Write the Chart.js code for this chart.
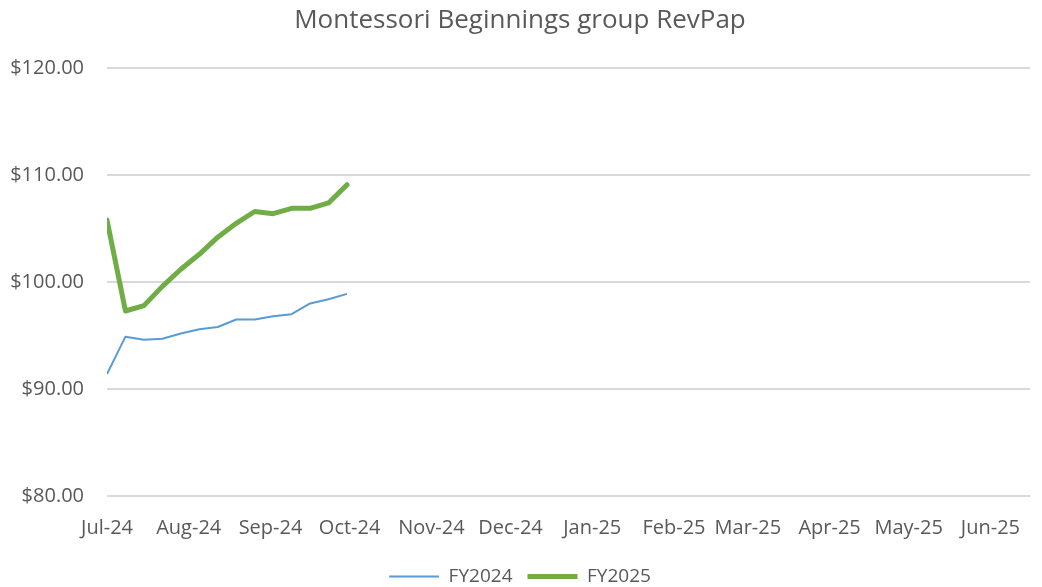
<!DOCTYPE html>
<html>
<head>
<meta charset="utf-8">
<script src="https://cdn.jsdelivr.net/npm/chart.js@4"></script>
<style>
  html, body { margin: 0; padding: 0; background: #fff; }
  #wrap { width: 1042px; height: 587px; }
</style>
</head>
<body>
<div id="wrap"><canvas id="revpap"></canvas></div>
<script>
// semanas (segunda-feira de cada semana)
const weeks = ['2024-07-01', '2024-07-08', '2024-07-15', '2024-07-22', '2024-07-29',
  '2024-08-05', '2024-08-12', '2024-08-19', '2024-08-26', '2024-09-02',
  '2024-09-09', '2024-09-16', '2024-09-23', '2024-09-30'];

const fy2024 = [91.4, 94.9, 94.6, 94.7, 95.2, 95.6, 95.8, 96.5, 96.5, 96.8, 97.0, 98.0, 98.4, 98.9];
const fy2025 = [105.8, 97.3, 97.8, 99.6, 101.2, 102.6, 104.2, 105.5, 106.6, 106.4, 106.9, 106.9, 107.4, 109.1];

const monthStarts = ['2024-07-01', '2024-08-01', '2024-09-01', '2024-10-01', '2024-11-01', '2024-12-01',
  '2025-01-01', '2025-02-01', '2025-03-01', '2025-04-01', '2025-05-01', '2025-06-01'];
const monthLabels = ['Jul-24', 'Aug-24', 'Sep-24', 'Oct-24', 'Nov-24', 'Dec-24',
  'Jan-25', 'Feb-25', 'Mar-25', 'Apr-25', 'May-25', 'Jun-25'];
const axisEnd = '2025-06-16';

const yTicks = [80, 90, 100, 110, 120];

// dias desde o inicio do ano fiscal
const dia = s => (Date.parse(s) - Date.parse(monthStarts[0])) / 86400000;

const pontos = vals => vals.map((v, i) => ({ x: dia(weeks[i]), y: v }));

const txt = '#595959';
const fonte = '"Open Sans", "DejaVu Sans", sans-serif';

new Chart(document.getElementById('revpap').getContext('2d'), {
  type: 'line',
  data: {
    datasets: [{
      label: 'FY2024',
      data: pontos(fy2024),
      borderColor: '#5b9bd5',
      backgroundColor: '#5b9bd5',
      borderWidth: 2,
      pointRadius: 0,
      borderJoinStyle: 'round',
      tension: 0
    }, {
      label: 'FY2025',
      data: pontos(fy2025),
      borderColor: '#70ad47',
      backgroundColor: '#70ad47',
      borderWidth: 5,
      pointRadius: 0,
      borderJoinStyle: 'round',
      borderCapStyle: 'round',
      tension: 0
    }]
  },
  options: {
    responsive: true,
    maintainAspectRatio: false,
    animation: false,
    layout: { padding: { left: 10, right: 12, top: 3, bottom: -9 } },
    plugins: {
      title: {
        display: true,
        text: 'Montessori Beginnings group RevPap',
        color: txt,
        font: { family: fonte, size: 26, weight: 'normal' },
        padding: { top: 2, bottom: 32 }
      },
      legend: {
        position: 'bottom',
        labels: {
          color: txt,
          font: { family: fonte, size: 19 },
          usePointStyle: true,
          pointStyle: 'line',
          pointStyleWidth: 50,
          boxHeight: 19,
          padding: 15
        }
      },
      tooltip: { enabled: false }
    },
    scales: {
      x: {
        type: 'linear',
        min: 0,
        max: dia(axisEnd),
        grid: { display: false },
        border: { display: false },
        afterBuildTicks: scale => {
          scale.ticks = monthStarts.map(m => ({ value: dia(m) }));
        },
        ticks: {
          autoSkip: false,
          maxRotation: 0,
          color: txt,
          padding: 12,
          font: { family: fonte, size: 20 },
          callback: v => monthLabels[monthStarts.findIndex(m => dia(m) === v)]
        }
      },
      y: {
        min: 80,
        max: 120,
        afterBuildTicks: scale => {
          scale.ticks = yTicks.map(v => ({ value: v }));
        },
        afterFit: scale => { scale.width = 97; },
        grid: { color: '#d9d9d9', lineWidth: 2, drawTicks: false },
        border: { display: false },
        ticks: {
          color: txt,
          padding: 23,
          font: { family: fonte, size: 20 },
          callback: v => '$' + v.toFixed(2)
        }
      }
    }
  }
});
</script>
</body>
</html>
